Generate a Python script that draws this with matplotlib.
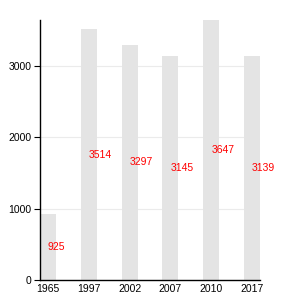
import numpy as np
import matplotlib.pyplot as plt

plt.rcParams['font.family'] = ['Liberation Sans', 'DejaVu Sans']

# Data
years = ["1965", "1997", "2002", "2007", "2010", "2017"]
values = [925, 3514, 3297, 3145, 3647, 3139]

x = np.arange(len(years))
width = 0.39

fig = plt.figure(figsize=(3, 3), dpi=100)
ax = fig.add_axes([40 / 300, 20 / 300, 220 / 300, 260 / 300])

ax.bar(x, values, width=width, color="#e4e4e4", zorder=2)

# value labels at half bar height, starting at bar centre
for xi, v in zip(x, values):
    ax.text(xi, v / 2, str(v), color="red", fontsize=7.5, ha="left", va="center", zorder=3)

ax.set_xlim(-width / 2, len(years) - 1 + width / 2)
ax.set_ylim(0, max(values))
ax.set_xticks(x)
ax.set_xticklabels(years)
ax.set_yticks([0, 1000, 2000, 3000])
ax.yaxis.grid(True, color="#ebebeb", linewidth=0.8, zorder=0)
ax.set_axisbelow(True)

for side in ["top", "right"]:
    ax.spines[side].set_visible(False)
for side in ["left", "bottom"]:
    ax.spines[side].set_color("black")
    ax.spines[side].set_linewidth(1)

ax.tick_params(axis="y", length=4, width=0.8, labelsize=7.5, pad=2)
ax.tick_params(axis="x", length=0, labelsize=7.5, pad=3)

plt.savefig("out.png")
